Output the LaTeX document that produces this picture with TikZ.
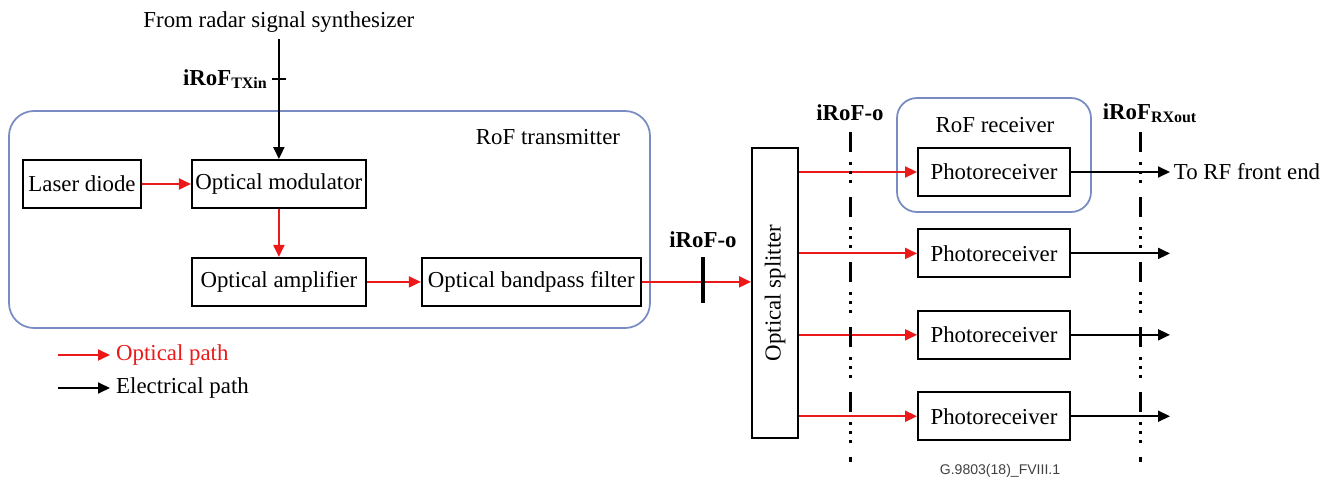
\documentclass[tikz,border=0pt]{standalone}
\usepackage{fontspec}
\setmainfont{Liberation Serif}
\setsansfont{Liberation Sans}
\usetikzlibrary{arrows.meta,positioning}
\definecolor{framebl}{RGB}{120,140,195}
\definecolor{optred}{RGB}{235,25,25}

\begin{document}
\begin{tikzpicture}[x=0.02cm, y=-0.02cm, >={Triangle[length=2.4mm,width=2.2mm]}, every node/.style={font=\fontsize{13}{15}\selectfont}, box/.style={draw, line width=1.1pt, minimum height=9.6mm, inner sep=1pt}, frame/.style={draw=framebl, line width=1pt, rounded corners=5mm}, opt/.style={->, optred, line width=1.1pt}, elec/.style={->, line width=1.1pt}, iface/.style={line width=1.7pt, dash pattern=on 11.4pt off 5.7pt on 1.7pt off 3.4pt on 1.7pt off 3.4pt on 1.7pt off 8pt}, lbl/.style={font=\fontsize{13}{15}\selectfont\bfseries}]
\useasboundingbox (0,0) rectangle (1336,486);
% transmitter side
\draw[frame] (9,111) rectangle (650,328);
\node (txlbl) at (548,137) {RoF transmitter};
\node[box, minimum width=23.6mm] (laser) at (82,184) {Laser diode};
\node[box, minimum width=34.8mm, right=9.8mm of laser] (mod) {Optical modulator};
\node[box, minimum width=34.8mm, below=9.6mm of mod] (amp) {Optical amplifier};
\node[box, minimum width=43.8mm, right=10.8mm of amp] (bpf) {Optical bandpass filter};
\node (synth) at (mod.north |- 0,22) {From radar signal synthesizer};
\coordinate (txin) at (mod.north |- 0,79);
\node[lbl, left=1mm of txin] (txinlbl) {iRoF\textsubscript{TXin}};
\draw[elec] (synth) -- (mod); \draw[line width=1.7pt] ([xshift=-1.4mm]txin) -- ([xshift=1.4mm]txin);
\draw[opt] (laser) -- (mod); \draw[opt] (mod) -- (amp); \draw[opt] (amp) -- (bpf);
% splitter and receivers
\node[box, rotate=90, minimum width=58mm, minimum height=9.2mm] (split) at (775,293) {Optical splitter};
\coordinate (oif) at (703,280);
\node[lbl] (oiflbl) at (703,240) {iRoF-o};
\draw[opt] (bpf) -- (bpf -| split.north); \draw[line width=1.8pt] ([yshift=4.6mm]oif) -- ([yshift=-4.6mm]oif);
\draw[frame, rounded corners=4mm] (897,98) rectangle (1091,212);
\node (rxlbl) at (995,125) {RoF receiver};
\node[box, minimum width=30.4mm] (pr1) at (994,172) {Photoreceiver};
\node[box, minimum width=30.4mm, below=6.3mm of pr1] (pr2) {Photoreceiver};
\node[box, minimum width=30.4mm, below=6.3mm of pr2] (pr3) {Photoreceiver};
\node[box, minimum width=30.4mm, below=6.3mm of pr3] (pr4) {Photoreceiver};
\draw[opt] (split.south |- pr1) -- (pr1); \draw[opt] (split.south |- pr2) -- (pr2); \draw[opt] (split.south |- pr3) -- (pr3); \draw[opt] (split.south |- pr4) -- (pr4);
\node[anchor=west, inner sep=2pt] (rf) at (1170,172) {To RF front end};
\coordinate (outend) at (1170,0);
\draw[elec] (pr1) -- (rf); \draw[elec] (pr2) -- (pr2 -| outend); \draw[elec] (pr3) -- (pr3 -| outend); \draw[elec] (pr4) -- (pr4 -| outend);
% interface lines
\node[lbl] (olbl) at (850,113) {iRoF-o};
\node[lbl] (rxoutlbl) at (1150,113) {iRoF\textsubscript{RXout}};
\coordinate (obot) at (850,462); \coordinate (rxbot) at (1140,462);
\draw[iface] (olbl.south |- 0,132) -- (obot); \draw[iface] (rxbot |- 0,132) -- (rxbot);
% legend
\coordinate (lopt0) at (58,355); \coordinate (lel0) at (58,388);
\node[anchor=west, text=optred] (lopt) at (110,355) {Optical path};
\node[anchor=west] (lel) at (110,388) {Electrical path};
\draw[opt] (lopt0) -- (lopt); \draw[elec] (lel0) -- (lel);
\node[font=\sffamily\fontsize{8}{9}\selectfont, text=black!75] (ref) at (1000,471) {G.9803(18)\_FVIII.1};
\end{tikzpicture}
\end{document}
